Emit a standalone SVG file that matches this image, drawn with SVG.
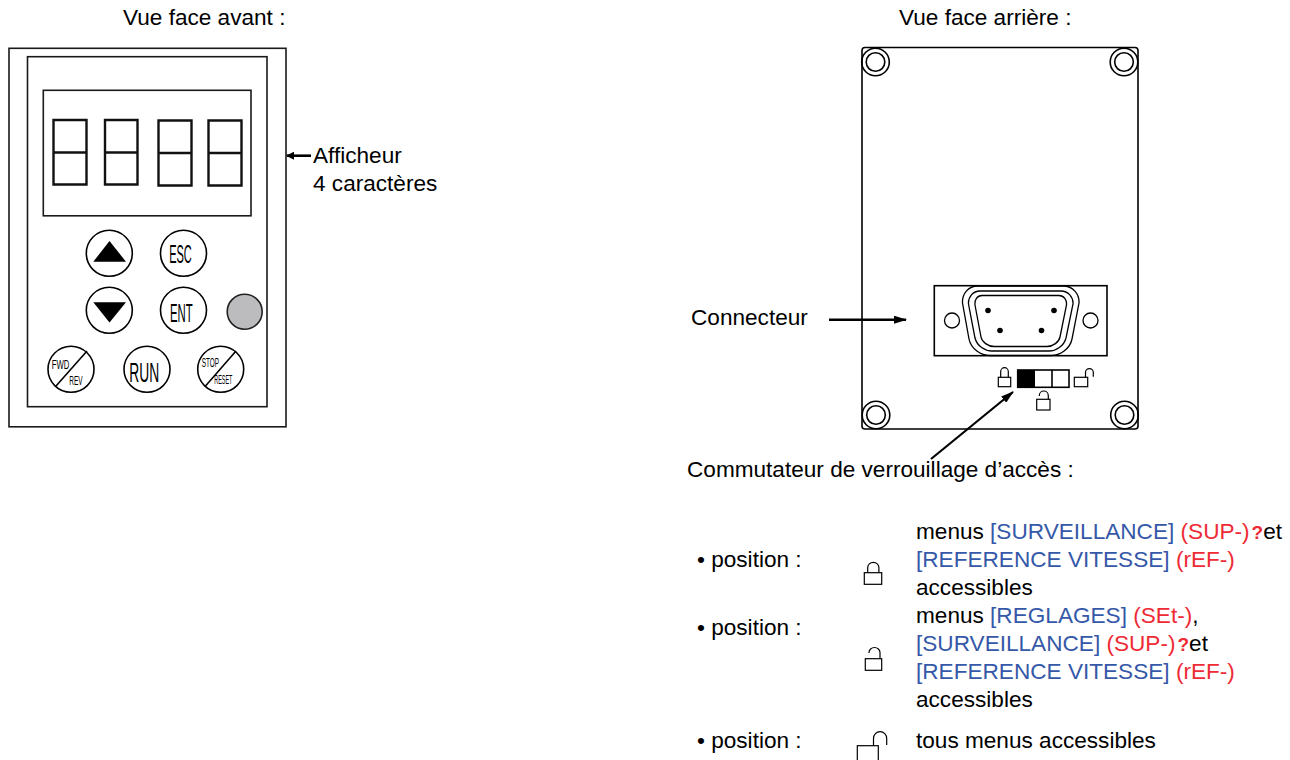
<svg xmlns="http://www.w3.org/2000/svg" width="1290" height="760" viewBox="0 0 1290 760">
<style>
text{font-family:"Liberation Sans",Arial,sans-serif;font-size:22.600px;fill:#000}
.b{fill:#3558a8}.r{fill:#ee2a35}
.q{fill:#ee2a35;font-weight:bold;font-size:19px}
.btn{fill:#fff;stroke:#000;stroke-width:1.600}
.ol{fill:#fff;stroke:#1a1a1a;stroke-width:1.600}
.dg{fill:none;stroke:#111;stroke-width:2.400}
.ln{fill:none;stroke:#000;stroke-width:1.300}
.cn{fill:none;stroke:#000;stroke-width:1.600}
.rg{fill:none;stroke:#000;stroke-width:1.600}
.btxt{font-size:25px;text-anchor:middle}
.stxt{font-size:13px;text-anchor:start}
.lk{fill:#fff;stroke:#000;stroke-width:1.200}
.sh{fill:none;stroke:#000;stroke-width:1.200}
.ar{fill:none;stroke:#000;marker-end:url(#ah)}
</style>
<defs>
<g id="ring"><circle r="13.800" class="rg"/><circle r="9.300" class="rg"/></g>
<marker id="ah" markerWidth="13" markerHeight="8" refX="12" refY="4" orient="auto" markerUnits="userSpaceOnUse"><path d="M0 0L13 4L0 8Z" fill="#000"/></marker>
<marker id="ah2" markerWidth="8" markerHeight="8" refX="7" refY="4" orient="auto" markerUnits="userSpaceOnUse"><path d="M0 0L8 4L0 8Z" fill="#000"/></marker>
</defs>
<text x="123" y="25">Vue face avant :</text>
<text x="899" y="25">Vue face arrière :</text>
<g id="front-panel">
<rect class="ol" x="9" y="48.300" width="277" height="378.500"/>
<rect class="ol" x="27.500" y="56.700" width="239.500" height="350"/>
<rect class="ol" x="43.300" y="90.300" width="207.700" height="125.500"/>
</g>
<g id="display">
<path class="dg" d="M53.500 120h33v64.500h-33zM53.500 152.500h33M105 120h32.500v64.500h-32.500zM105 152.500h32.500M158.500 120.500h33v65h-33zM158.500 153h33M208.500 120.500h33v65h-33zM208.500 153h33"/>
</g>
<g id="btn-up"><circle class="btn" cx="109.300" cy="253.300" r="23"/><path d="M93.300 261.700L109.500 241L126 261.700Z" fill="#000"/></g>
<g id="btn-esc"><circle class="btn" cx="183.500" cy="253.300" r="23"/><text class="btxt" x="180.500" y="263" textLength="22.700" lengthAdjust="spacingAndGlyphs">ESC</text></g>
<g id="btn-down"><circle class="btn" cx="109.300" cy="310.300" r="23"/><path d="M93.300 302.300L126 302.300L109.500 322.500Z" fill="#000"/></g>
<g id="btn-ent"><circle class="btn" cx="183.500" cy="310.300" r="23"/><text class="btxt" x="181.300" y="321.500" textLength="22.700" lengthAdjust="spacingAndGlyphs">ENT</text></g>
<g id="led"><circle cx="244.700" cy="311.700" r="17.500" fill="#bcbcbe" stroke="#222" stroke-width="1.600"/></g>
<g id="btn-fwd"><circle class="btn" cx="71" cy="369.300" r="23"/><path class="cn" d="M56 386L87 351"/><text class="stxt" x="51.700" y="369.300" textLength="17.600" lengthAdjust="spacingAndGlyphs">FWD</text><text class="stxt" x="69.300" y="385" textLength="13.400" lengthAdjust="spacingAndGlyphs">REV</text></g>
<g id="btn-run"><circle class="btn" cx="147" cy="369.300" r="23"/><text class="btxt" style="font-size:28px" x="144.300" y="381.500" textLength="30" lengthAdjust="spacingAndGlyphs">RUN</text></g>
<g id="btn-stop"><circle class="btn" cx="220.700" cy="369.300" r="23"/><path class="cn" d="M205.500 386L236 351"/><text class="stxt" x="201.700" y="367.300" textLength="17.300" lengthAdjust="spacingAndGlyphs">STOP</text><text class="stxt" x="214.300" y="384" textLength="18" lengthAdjust="spacingAndGlyphs">RESET</text></g>
<g id="back-panel">
<rect x="862" y="47.500" width="276" height="381.500" rx="3" fill="#fff" stroke="#000" stroke-width="1.600"/>
<use href="#ring" x="875.500" y="62"/><use href="#ring" x="1124" y="62"/><use href="#ring" x="876" y="415"/><use href="#ring" x="1124.500" y="415"/>
</g>
<g id="connector">
<rect class="cn" x="934.300" y="285.700" width="172.700" height="70"/>
<circle class="ln" cx="952" cy="320.500" r="7.500"/><circle class="ln" cx="1090.500" cy="320.500" r="7.500"/>
<path class="ln" d="M978 286C968 286 962 294 962.500 303L969 339C971 349 981 355.500 990 355.500H1051C1060 355.500 1070 349 1072 339L1079 303C1079.500 294 1073 286 1063 286Z"/>
<path class="ln" d="M980 291C973 291 968 297 968.500 304L975 338C977 346 985 351 992 351H1049C1056 351 1064 346 1066 338L1073 304C1073.500 297 1068 291 1061 291Z"/>
<path class="ln" d="M982 295.500C977 295.500 974.500 300 975 305L981 337C982 342 988 346.500 994 346.500H1047C1053 346.500 1059 342 1060 337L1066.500 305C1067 300 1064 295.500 1059 295.500Z"/>
<circle cx="988" cy="310.500" r="2.800"/><circle cx="1054" cy="310.500" r="2.800"/><circle cx="1000" cy="330.500" r="2.800"/><circle cx="1041.500" cy="330.500" r="2.800"/>
</g>
<g id="switch">
<rect class="cn" x="1017.700" y="370" width="51.300" height="17.300"/>
<rect x="1017.700" y="370" width="17.300" height="17.300" fill="#000"/>
<path class="cn" d="M1052 370v17.300"/>
<path class="sh" d="M1000.700 377.300V371.500a3.800 3.800 0 0 1 7.600 0V377.300"/><rect class="lk" x="998.300" y="377.300" width="12.400" height="9.400"/>
<path class="sh" d="M1039.300 396V395.500a4.500 4.500 0 0 1 9 0V399.300"/><rect class="lk" x="1036.700" y="399.300" width="13.300" height="10.700"/>
<rect class="lk" x="1074.300" y="377.300" width="13.400" height="9.400"/><path class="sh" d="M1085.500 377.300V372.500a3.900 3.900 0 0 1 7.800 0V376.700"/>
</g>
<g id="connectors">
<path d="M311 155.700H287" fill="none" stroke="#000" stroke-width="2.600" marker-end="url(#ah2)"/>
<path class="ar" d="M829 319.700H906" stroke-width="2.600"/>
<path class="ar" d="M931 459L1013 392" stroke-width="2.200"/>
</g>
<g id="labels">
<text x="313" y="162.500">Afficheur</text>
<text x="313" y="190.500">4 caractères</text>
<text x="691" y="325">Connecteur</text>
<text x="687" y="477">Commutateur de verrouillage d’accès :</text>
<text x="697" y="567">• position :</text>
<text x="697" y="635">• position :</text>
<text x="697" y="748">• position :</text>
<text x="916" y="539">menus <tspan class="b">[SURVEILLANCE]</tspan> <tspan class="r">(SUP-)</tspan><tspan class="q" dx="2">?</tspan>et</text>
<text x="916" y="567"><tspan class="b">[REFERENCE VITESSE]</tspan> <tspan class="r">(rEF-)</tspan></text>
<text x="916" y="595">accessibles</text>
<text x="916" y="623">menus <tspan class="b">[REGLAGES]</tspan> <tspan class="r">(SEt-)</tspan>,</text>
<text x="916" y="651"><tspan class="b">[SURVEILLANCE]</tspan> <tspan class="r">(SUP-)</tspan><tspan class="q" dx="2">?</tspan>et</text>
<text x="916" y="679"><tspan class="b">[REFERENCE VITESSE]</tspan> <tspan class="r">(rEF-)</tspan></text>
<text x="916" y="707">accessibles</text>
<text x="916" y="748">tous menus accessibles</text>
</g>
<g id="legend-locks">
<path class="sh" d="M867.700 572.700V567.500a5.600 5.200 0 0 1 11.200 0V572.700"/><rect class="lk" x="864.300" y="572.700" width="17.400" height="11.600"/>
<path class="sh" d="M869 653V652.500a5.500 5 0 0 1 11 0V658.700"/><rect class="lk" x="865.300" y="658.700" width="16.400" height="11.600"/>
<rect class="lk" x="857.300" y="745.700" width="21" height="15"/>
<path class="sh" d="M873.500 745.700V738.500a6.600 6.800 0 0 1 13.200 0V745"/>
</g>
</svg>
